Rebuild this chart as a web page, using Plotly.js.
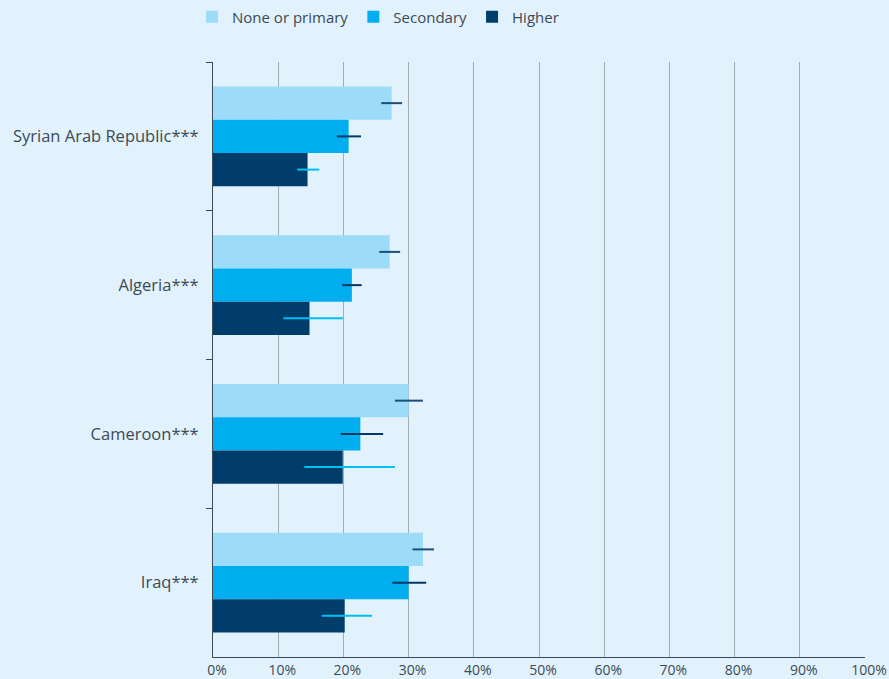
<!DOCTYPE html>
<html>
<head>
<meta charset="utf-8">
<script src="https://cdn.plot.ly/plotly-3.0.1.min.js"></script>
<style>html,body{margin:0;padding:0;background:#e1f2fc;}#chart{width:889px;height:679px;}</style>
</head>
<body>
<div id="chart"></div>
<script>
const categories = ["Syrian Arab Republic***", "Algeria***", "Cameroon***", "Iraq***"];
const seriesNames = ["None or primary", "Secondary", "Higher"];
const noneValues = [27.4, 27.1, 30.0, 32.2];
const noneErrPlus = [1.6, 1.6, 2.2, 1.7];
const noneErrMinus = [1.6, 1.6, 2.1, 1.6];
const secondaryValues = [20.8, 21.3, 22.6, 30.0];
const secondaryErrPlus = [1.9, 1.5, 3.5, 2.7];
const secondaryErrMinus = [1.8, 1.5, 3.0, 2.5];
const higherValues = [14.5, 14.8, 19.9, 20.2];
const higherErrPlus = [1.8, 5.1, 8.0, 4.2];
const higherErrMinus = [1.6, 4.0, 5.9, 3.5];
const xTickVals = [0,10,20,30,40,50,60,70,80,90,100];
const xTickText = ["0%","10%","20%","30%","40%","50%","60%","70%","80%","90%","100%"];

const colors = ["#9cdcf8", "#00aeef", "#003d6b"];
const errColors = ["#1b4f7a", "#003a63", "#00bff3"];

function mk(name, vals, plus, minus, i) {
  return {
    type: "bar", orientation: "h", name: name,
    x: vals, y: categories,
    marker: {color: colors[i]},
    error_x: {type: "data", symmetric: false, array: plus, arrayminus: minus,
              color: errColors[i], thickness: 2, width: 0},
    hoverinfo: "x+name"
  };
}

const data = [
  mk(seriesNames[0], noneValues, noneErrPlus, noneErrMinus, 0),
  mk(seriesNames[1], secondaryValues, secondaryErrPlus, secondaryErrMinus, 1),
  mk(seriesNames[2], higherValues, higherErrPlus, higherErrMinus, 2)
];

const layout = {
  width: 889, height: 679,
  paper_bgcolor: "#e1f2fc", plot_bgcolor: "#e1f2fc",
  margin: {l: 213, r: 24, t: 62, b: 22},
  barmode: "group", bargap: 0.33, bargroupgap: 0,
  font: {family: "'Open Sans', sans-serif", size: 15, color: "#3c4a57"},
  showlegend: true,
  legend: {orientation: "h", x: 0.216, y: 0.975, xanchor: "left", yanchor: "middle",
           xref: "container", yref: "container", font: {size: 15, color: "#3c4a57"},
           bgcolor: "rgba(0,0,0,0)", traceorder: "normal", itemwidth: 30},
  xaxis: {range: [0, 100], tickvals: xTickVals, ticktext: xTickText,
          showgrid: true, gridcolor: "#a3abb3", gridwidth: 1,
          zeroline: false, showline: true, linecolor: "#3c4a57", linewidth: 1,
          ticks: "", ticklabelshift: 4, tickfont: {size: 14, color: "#3c4a57"}, fixedrange: true},
  yaxis: {autorange: "reversed", type: "category", categoryorder: "array", categoryarray: categories,
          showline: true, linecolor: "#3c4a57", linewidth: 1,
          ticks: "outside", tickson: "boundaries", ticklen: 6, tickcolor: "#3c4a57",
          ticklabelstandoff: 10,
          tickfont: {size: 16.5, color: "#3c4a57"}, showgrid: false, zeroline: false}
};

Plotly.newPlot("chart", data, layout, {displayModeBar: false, staticPlot: true});
</script>
</body>
</html>
